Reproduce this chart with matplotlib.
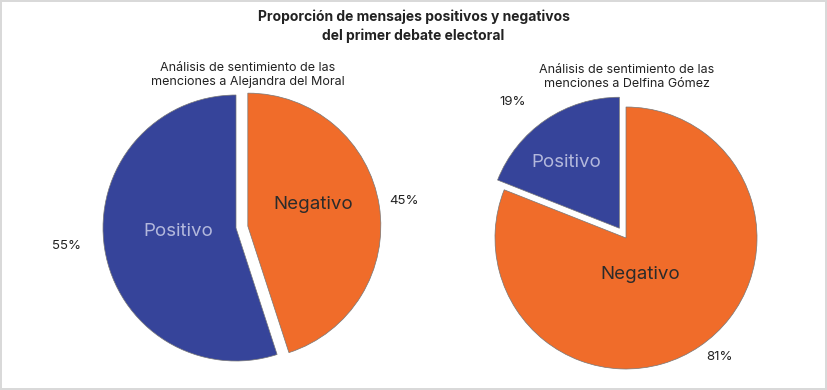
import matplotlib.pyplot as plt
import numpy as np

# Data
categories = ["Positivo", "Negativo"]
moral_pct = [55, 45]
gomez_pct = [19, 81]
titles = [
    "Análisis de sentimiento de las\nmenciones a Alejandra del Moral",
    "Análisis de sentimiento de las\nmenciones a Delfina Gómez",
]

colors = ["#36449a", "#f06c2a"]
name_colors = ["#b3b8dc", "#2b2b2b"]
plt.rcParams["font.family"] = ["Inter", "DejaVu Sans"]

W, H = 827, 390
fig = plt.figure(figsize=(W / 100, H / 100), dpi=100)
fig.patch.set_edgecolor("#d9d9d9")
fig.patch.set_linewidth(1.5)

fig.text(0.5, 1 - 26 / H, "Proporción de mensajes positivos y negativos\ndel primer debate electoral",
         ha="center", va="center", fontsize=10, fontweight="bold", color="#222222", linespacing=1.35)


def polar(c, r, deg):
    a = np.deg2rad(deg)
    return c[0] + r * np.cos(a), c[1] + r * np.sin(a)


def add_pie(cx, cy, r, values, explode, name_pos, pct_pos, title, title_x, title_y):
    # name_pos / pct_pos: (radius fraction, angle offset from wedge middle)
    lim = 1.3
    half = lim * r
    ax = fig.add_axes([(cx - half) / W, (H - cy - half) / H, 2 * half / W, 2 * half / H])
    wedges, _ = ax.pie(values, explode=explode, colors=colors, startangle=90, counterclock=True,
                       wedgeprops=dict(edgecolor="#777777", linewidth=0.5))
    for i, w in enumerate(wedges):
        mid = (w.theta1 + w.theta2) / 2
        x, y = polar(w.center, name_pos[i][0], mid + name_pos[i][1])
        ax.text(x, y, categories[i], ha="center", va="center", fontsize=13.5, color=name_colors[i])
        x, y = polar(w.center, pct_pos[i][0], mid + pct_pos[i][1])
        ax.text(x, y, f"{values[i]}%", ha="center", va="center", fontsize=9.5, color="#222222")
    ax.set_xlim(-lim, lim)
    ax.set_ylim(-lim, lim)
    ax.set_aspect("equal")
    fig.text(title_x / W, 1 - title_y / H, title, ha="center", va="center", fontsize=9,
             color="#222222", linespacing=1.25)


add_pie(236, 228, 133, moral_pct, [0, 0.09],
        [(0.436, -6), (0.515, 9)], [(1.28, -3), (1.19, 0)], titles[0], 248, 75)
add_pie(626, 238, 131, gomez_pct, [0.09, 0],
        [(0.643, 5), (0.295, -13)], [(1.26, 6), (1.157, 4)], titles[1], 627, 77)

fig.savefig("out.png", dpi=100)
